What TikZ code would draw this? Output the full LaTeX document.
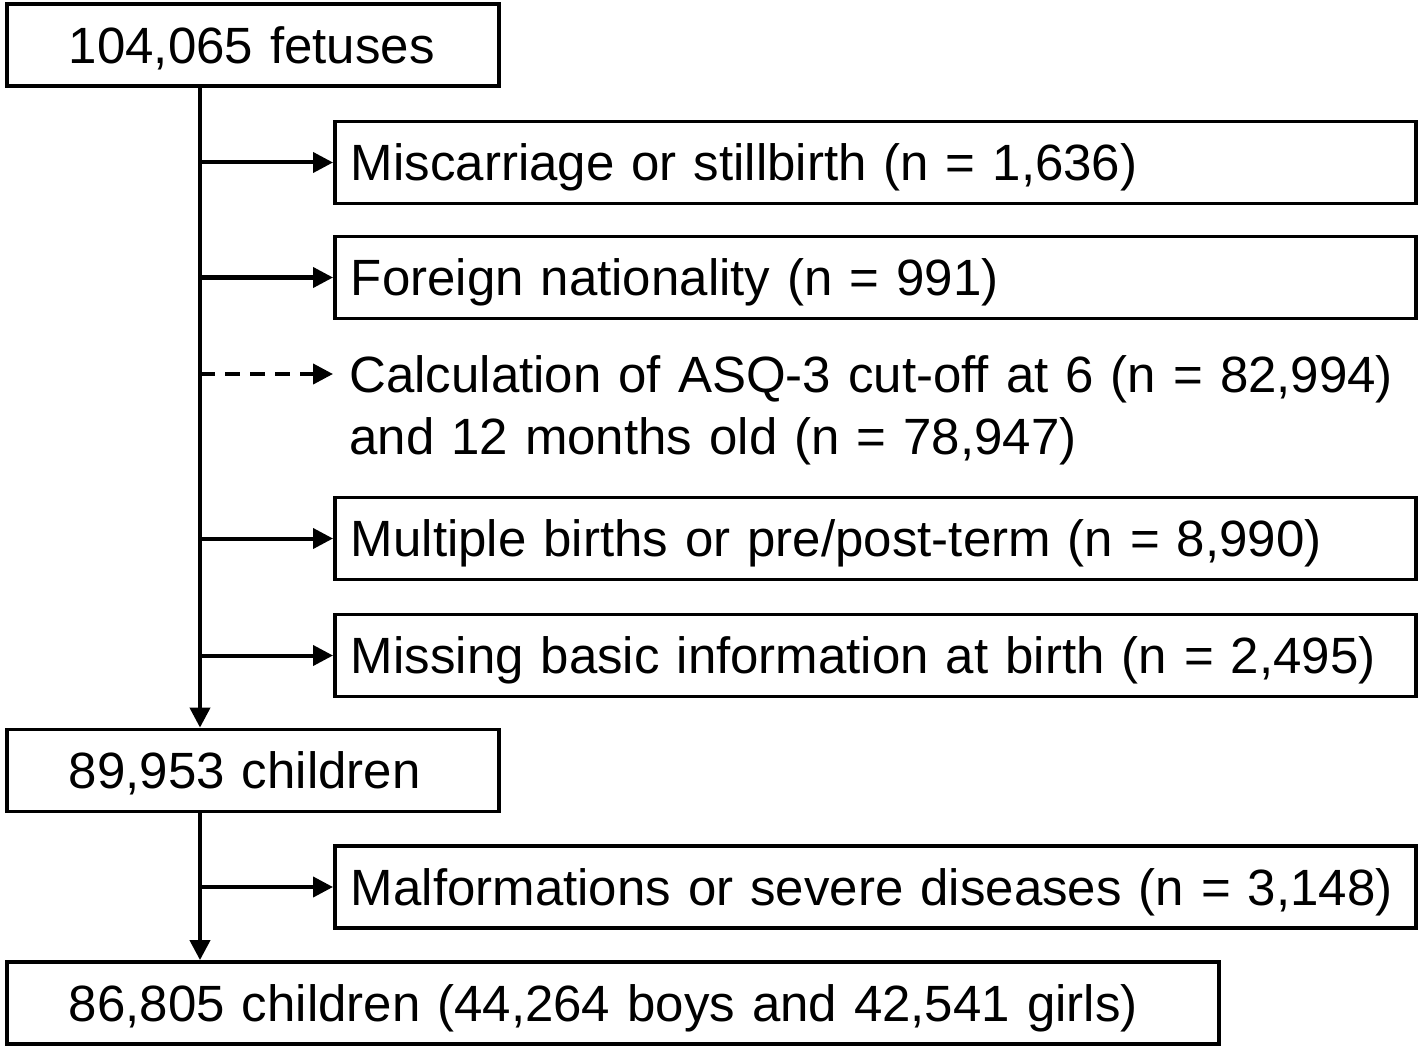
\documentclass[tikz,border=0pt]{standalone}
\usepackage{fontspec}
\setmainfont{Liberation Sans}
\usepackage{tikz}
\usetikzlibrary{arrows.meta, positioning, calc}

\begin{document}
\begin{tikzpicture}[x=0.5pt, y=-0.5pt,
        box/.style={draw, line width=1.9pt, minimum height=41pt, inner ysep=0pt, anchor=west, text height=23.7pt, text depth=5.4pt, font=\fontsize{25.5}{31}\selectfont},
        outbox/.style={box, align=left, inner xsep=8pt, text width=524.5pt},
        mainbox/.style={box, align=left, inner xsep=31pt, text width=#1},
        arrow/.style={-{Triangle[length=10pt, width=10pt]}, line width=2pt}
    ]
        \useasboundingbox (0,0) rectangle (1418,1048);
        \coordinate (trunk) at (200,0);

        % left column
        \node (fetuses) [mainbox=184pt] at (5,45) {104,065 fetuses};
        \node (children) [mainbox=184pt] at (5,770.5) {89,953 children};
        \node (final) [mainbox=544pt] at (5,1003) {86,805 children (44,264 boys and 42,541 girls)};

        % exclusions
        \node (miscarriage) [outbox] at (333,162.5) {Miscarriage or stillbirth (n = 1,636)};
        \node (foreign) [outbox] at (333,277.5) {Foreign nationality (n = 991)};
        \node (asq) [draw=none, anchor=west, align=left, inner xsep=8pt, text width=540pt, font=\fontsize{25.5}{31}\selectfont] at (333,410) {Calculation of ASQ-3 cut-off at 6 (n = 82,994)\\and 12 months old (n = 78,947)};
        \coordinate (asqline) at (333,374);
        \node (multiple) [outbox] at (333,538.5) {Multiple births or pre/post-term (n = 8,990)};
        \node (missing) [outbox] at (333,655.5) {Missing basic information at birth (n = 2,495)};
        \node (malform) [outbox] at (333,887) {Malformations or severe diseases (n = 3,148)};

        \draw [arrow] (fetuses.south -| trunk) -- (children.north -| trunk);
        \draw [arrow] (children.south -| trunk) -- (final.north -| trunk);
        \draw [arrow] (trunk |- miscarriage.west) -- (miscarriage.west);
        \draw [arrow] (trunk |- foreign.west) -- (foreign.west);
        \draw [arrow, dash pattern=on 7.5pt off 5pt] (trunk |- asqline) -- (asqline);
        \draw [arrow] (trunk |- multiple.west) -- (multiple.west);
        \draw [arrow] (trunk |- missing.west) -- (missing.west);
        \draw [arrow] (trunk |- malform.west) -- (malform.west);
    \end{tikzpicture}
\end{document}
